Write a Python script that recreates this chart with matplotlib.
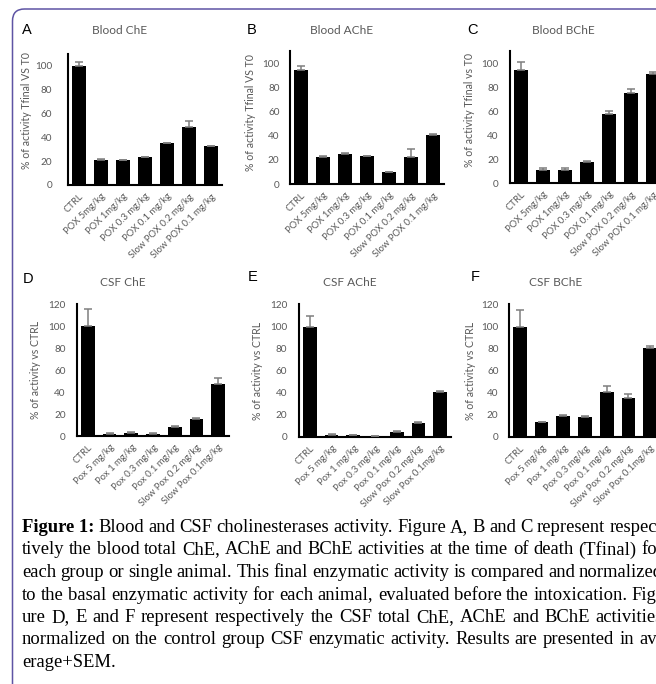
import matplotlib
matplotlib.use('Agg')
import matplotlib.pyplot as plt
from matplotlib.patches import FancyBboxPatch
import numpy as np

plt.rcParams['font.family'] = ['Lato', 'DejaVu Sans']

W, H = 656, 684

# groups
blood_groups = ['CTRL', 'POX 5mg/kg', 'POX 1mg/kg', 'POX 0.3 mg/kg', 'POX 0.1 mg/kg',
                'Slow POX 0.2 mg/kg', 'Slow POX 0.1 mg/kg']
csf_groups = ['CTRL', 'Pox 5 mg/kg', 'Pox 1 mg/kg', 'Pox 0.3 mg/kg', 'Pox 0.1 mg/kg',
              'Slow Pox 0.2 mg/kg', 'Slow Pox 0.1mg/kg']

# mean % activity and SEM
blood_che = [100, 21, 20.7, 23.3, 35, 48.5, 32.5]
blood_che_sem = [3, 0.5, 0.5, 0.4, 0.4, 5, 0.4]
blood_ache = [94.5, 22.5, 25, 23, 10, 22.5, 40.5]
blood_ache_sem = [3, 0.4, 0.5, 0.4, 0.3, 6.5, 0.5]
blood_bche = [94.5, 11, 10.5, 17.8, 57.5, 75, 90.5]
blood_bche_sem = [6, 1.5, 2, 0.5, 2.5, 3, 2]
csf_che = [100, 2, 3, 2, 8.5, 15.5, 47.5]
csf_che_sem = [15.5, 0.5, 0.6, 0.5, 0.8, 0.6, 5.5]
csf_ache = [99, 2, 1.5, 0.6, 4.5, 13, 40.5]
csf_ache_sem = [10.5, 0.6, 0.5, 0.3, 0.7, 0.8, 1.2]
csf_bche = [99, 13.3, 19.3, 18.4, 40.5, 35, 80.7]
csf_bche_sem = [15.5, 0.6, 0.6, 0.6, 5.5, 3.7, 1]

ylab_blood = '% of activity Tfinal VS T0'
ylab_csf = '% of activity vs CTRL'

panels = [
    ('A', 'Blood ChE', blood_groups, blood_che, blood_che_sem, ylab_blood),
    ('B', 'Blood AChE', blood_groups, blood_ache, blood_ache_sem, ylab_blood),
    ('C', 'Blood BChE', blood_groups, blood_bche, blood_bche_sem, '% of activity Tfinal vs T0'),
    ('D', 'CSF ChE', csf_groups, csf_che, csf_che_sem, ylab_csf),
    ('E', 'CSF AChE', csf_groups, csf_ache, csf_ache_sem, ylab_csf),
    ('F', 'CSF BChE', csf_groups, csf_bche, csf_bche_sem, ylab_csf),
]

# layout in pixels: axes box (left, top, right, bottom), letter xy, title xy,
# ylim, tick label pad, ylabel offset (px left of axis), ylabel y
layout = [
    ((68, 54, 222, 185), (27, 30), (120, 30), 110, 11.5, 36, 0.57),
    ((290, 51, 444, 184), (252, 30), (342, 30), 110, 7.5, 34, 0.54),
    ((510, 51, 664, 183), (472, 30), (563, 30), 110, 8, 35, 0.55),
    ((77, 304, 229, 436), (28, 279), (123, 283), 120, 8, 36, 0.5),
    ((299, 304, 451, 437), (253, 277), (350, 283), 120, 8.5, 36, 0.5),
    ((509, 304, 661, 437), (475, 277), (556, 283), 120, 7.5, 33, 0.5),
]

grey = '#595959'

fig = plt.figure(figsize=(W / 100, H / 100), dpi=100)

# purple frame around the figure
frame = FancyBboxPatch((0.125, -0.4), 7.0, (H - 9) / 100 + 0.4,
                       boxstyle='round,pad=0,rounding_size=0.12',
                       transform=fig.dpi_scale_trans, facecolor='none',
                       edgecolor='#5e54a4', linewidth=1.1)
fig.patches.append(frame)

for (letter, title, groups, vals, sem, ylab), (box, lxy, txy, ymax, lpad, yoff, ly) in zip(panels, layout):
    l, t, r, b = box
    ax = fig.add_axes([l / W, 1 - b / H, (r - l) / W, (b - t) / H])
    x = np.arange(len(groups))
    ax.bar(x, vals, width=0.63, color='black', zorder=2)
    ax.errorbar(x, vals, yerr=[np.zeros(len(sem)), sem], fmt='none', ecolor='#7f7f7f',
                elinewidth=1.1, capsize=2.9, capthick=1.1, zorder=3)
    ax.set_xlim(-0.5, len(groups) - 0.5)
    ax.set_ylim(0, ymax)
    ax.set_yticks(np.arange(0, 101 if ymax == 110 else 121, 20))
    ax.set_xticks(x)
    ax.set_xticklabels(groups, rotation=45, ha='right', va='top', rotation_mode='anchor',
                       fontsize=6.8, color=grey)
    ax.tick_params(axis='x', length=0, pad=5)
    ax.tick_params(axis='y', length=0, pad=lpad, labelsize=7.2, labelcolor=grey)
    for s in ['top', 'right']:
        ax.spines[s].set_visible(False)
    for s in ['left', 'bottom']:
        ax.spines[s].set_color('black')
        ax.spines[s].set_linewidth(1.5)
    ax.set_ylabel(ylab, fontsize=7.6, color=grey)
    ax.yaxis.set_label_coords(-yoff / (r - l), ly)
    fig.text(lxy[0] / W, 1 - lxy[1] / H, letter, fontsize=10.5, family='Liberation Sans',
             ha='center', va='center')
    fig.text(txy[0] / W, 1 - txy[1] / H, title, fontsize=8.6, color=grey,
             ha='center', va='center')

# caption, justified like the journal page
caption = [
    'Blood and CSF cholinesterases activity. Figure A, B and C represent respec-',
    'tively the blood total ChE, AChE and BChE activities at the time of death (Tfinal) for',
    'each group or single animal. This final enzymatic activity is compared and normalized',
    'to the basal enzymatic activity for each animal, evaluated before the intoxication. Fig-',
    'ure D, E and F represent respectively the CSF total ChE, AChE and BChE activities',
    'normalized on the control group CSF enzymatic activity. Results are presented in av-',
    'erage+SEM.',
]
renderer = fig.canvas.get_renderer()
x_left, x_right = 22, 663

# size the serif face so that the second (plainly spaced) line fills the column
probe = fig.text(0, 0, caption[1], family='Liberation Serif', fontsize=10)
cap_size = 10 * (x_right - x_left) / probe.get_window_extent(renderer).width
probe.remove()
cap_font = dict(family='Liberation Serif', fontsize=cap_size, va='baseline')

for i, line in enumerate(caption):
    yb = 1 - (532 + i * 22.5) / H
    words = line.split(' ')
    x0 = x_left
    if i == 0:
        tb = fig.text(x0 / W, yb, 'Figure 1:', fontweight='bold', **cap_font)
        x0 = tb.get_window_extent(renderer).x1
        words = [''] + words
    if i == len(caption) - 1:
        fig.text(x0 / W, yb, line, **cap_font)
        continue
    arts = []
    widths = []
    for w in words:
        a = fig.text(0, yb, w, **cap_font)
        arts.append(a)
        widths.append(a.get_window_extent(renderer).width if w else 0)
    gap = (x_right - x0 - sum(widths)) / (len(words) - 1)
    xx = x0
    for a, wd in zip(arts, widths):
        a.set_x(xx / W)
        xx += wd + gap

fig.savefig('out.png', dpi=100)
